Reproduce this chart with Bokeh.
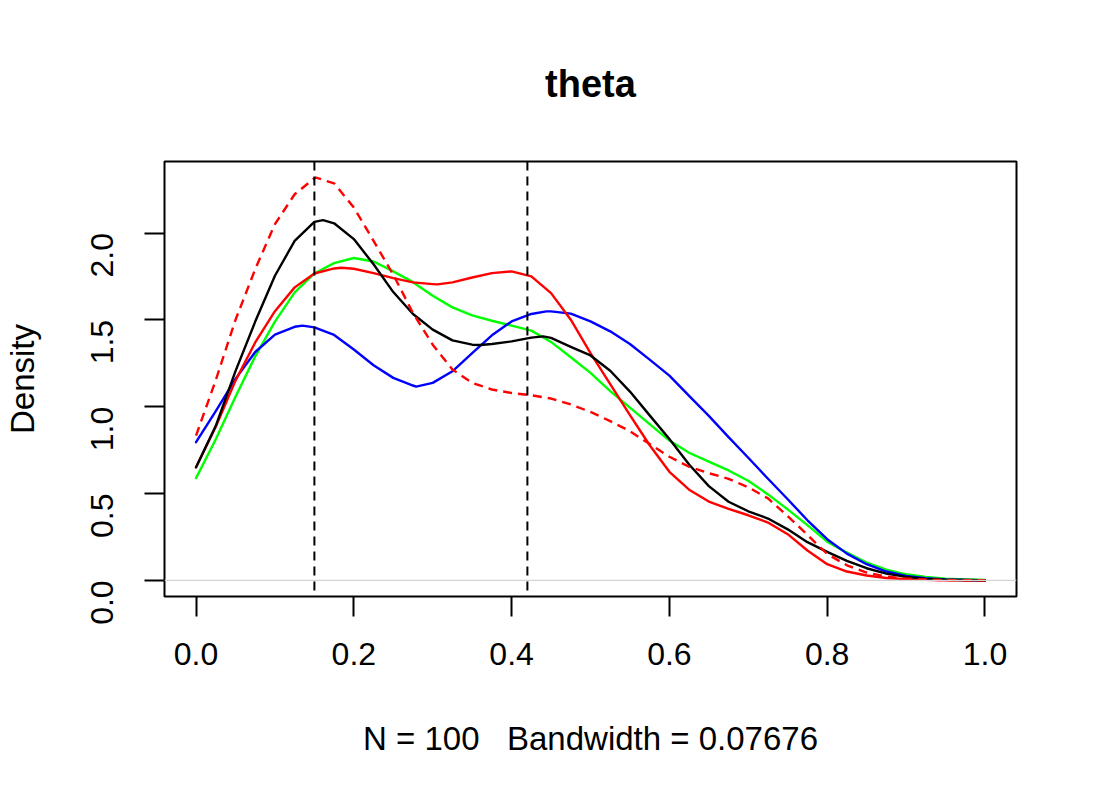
import math
from bokeh.plotting import figure
from bokeh.models import Range1d, Span, FixedTicker
from bokeh.embed import file_html
from bokeh.resources import INLINE

# Kernel density estimates of theta over [0, 1]; each curve has its own
# evaluation points (a common grid plus its turning points)
x_black = [0.000, 0.025, 0.050, 0.075, 0.100, 0.125, 0.150, 0.161, 0.175, 0.200,
           0.225, 0.250, 0.275, 0.300, 0.325, 0.350, 0.360, 0.375, 0.400, 0.425,
           0.440, 0.450, 0.475, 0.500, 0.525, 0.550, 0.575, 0.600, 0.625, 0.650,
           0.675, 0.700, 0.725, 0.750, 0.775, 0.800, 0.825, 0.850, 0.875, 0.900,
           0.925, 0.950, 0.975, 1.000]
dens_black = [0.651, 0.890, 1.205, 1.490, 1.754, 1.955, 2.064, 2.074, 2.056, 1.965,
              1.820, 1.660, 1.534, 1.444, 1.382, 1.357, 1.355, 1.361, 1.376, 1.398,
              1.405, 1.396, 1.345, 1.295, 1.207, 1.087, 0.950, 0.814, 0.667, 0.543,
              0.453, 0.398, 0.356, 0.294, 0.220, 0.164, 0.112, 0.070, 0.039, 0.020,
              0.009, 0.004, 0.002, 0.001]

x_red = [0.000, 0.025, 0.050, 0.075, 0.100, 0.125, 0.150, 0.175, 0.184, 0.200,
         0.225, 0.250, 0.275, 0.300, 0.306, 0.325, 0.350, 0.375, 0.400, 0.425,
         0.450, 0.475, 0.500, 0.525, 0.550, 0.575, 0.600, 0.625, 0.650, 0.675,
         0.700, 0.725, 0.750, 0.775, 0.800, 0.825, 0.850, 0.875, 0.900, 0.925,
         0.950, 0.975, 1.000]
dens_red = [0.651, 0.885, 1.150, 1.370, 1.550, 1.687, 1.767, 1.796, 1.800, 1.794,
            1.769, 1.740, 1.716, 1.706, 1.704, 1.716, 1.744, 1.769, 1.779, 1.750,
            1.654, 1.501, 1.309, 1.130, 0.951, 0.778, 0.625, 0.522, 0.454, 0.412,
            0.375, 0.333, 0.266, 0.172, 0.093, 0.051, 0.028, 0.014, 0.007, 0.003,
            0.001, 0.000, 0.000]

x_green = [0.000, 0.025, 0.050, 0.075, 0.100, 0.125, 0.150, 0.175, 0.200, 0.225,
           0.250, 0.275, 0.300, 0.325, 0.350, 0.375, 0.400, 0.425, 0.450, 0.475,
           0.500, 0.525, 0.550, 0.575, 0.600, 0.625, 0.650, 0.675, 0.700, 0.725,
           0.750, 0.775, 0.800, 0.825, 0.850, 0.875, 0.900, 0.925, 0.950, 0.975,
           1.000]
dens_green = [0.589, 0.813, 1.057, 1.290, 1.490, 1.658, 1.767, 1.827, 1.856, 1.836,
              1.779, 1.717, 1.639, 1.572, 1.526, 1.495, 1.467, 1.438, 1.373, 1.285,
              1.195, 1.090, 0.995, 0.900, 0.805, 0.735, 0.684, 0.633, 0.574, 0.495,
              0.409, 0.318, 0.223, 0.160, 0.102, 0.062, 0.035, 0.020, 0.010, 0.005,
              0.002]

x_blue = [0.000, 0.025, 0.050, 0.075, 0.100, 0.125, 0.135, 0.150, 0.175, 0.200,
          0.225, 0.250, 0.275, 0.279, 0.300, 0.325, 0.350, 0.375, 0.400, 0.425,
          0.444, 0.450, 0.475, 0.500, 0.525, 0.550, 0.575, 0.600, 0.625, 0.650,
          0.675, 0.700, 0.725, 0.750, 0.775, 0.800, 0.825, 0.850, 0.875, 0.900,
          0.925, 0.950, 0.975, 1.000]
dens_blue = [0.796, 0.975, 1.160, 1.315, 1.415, 1.460, 1.467, 1.457, 1.413, 1.329,
             1.239, 1.166, 1.122, 1.116, 1.137, 1.204, 1.309, 1.411, 1.491, 1.534,
             1.549, 1.549, 1.536, 1.491, 1.434, 1.361, 1.271, 1.179, 1.062, 0.947,
             0.825, 0.706, 0.585, 0.467, 0.346, 0.237, 0.154, 0.093, 0.051, 0.026,
             0.013, 0.005, 0.002, 0.000]

x_red_dashed = [0.000, 0.025, 0.050, 0.075, 0.100, 0.125, 0.150, 0.152, 0.175, 0.200,
                0.225, 0.250, 0.275, 0.300, 0.325, 0.350, 0.375, 0.400, 0.425, 0.450,
                0.475, 0.500, 0.525, 0.550, 0.575, 0.600, 0.625, 0.650, 0.675, 0.700,
                0.725, 0.750, 0.775, 0.800, 0.825, 0.850, 0.875, 0.900, 0.925, 0.950,
                0.975, 1.000]
dens_red_dashed = [0.834, 1.153, 1.500, 1.792, 2.051, 2.223, 2.315, 2.319, 2.286, 2.147,
                   1.955, 1.760, 1.539, 1.357, 1.214, 1.137, 1.099, 1.079, 1.066, 1.047,
                   1.013, 0.970, 0.917, 0.859, 0.785, 0.712, 0.654, 0.617, 0.585, 0.536,
                   0.472, 0.370, 0.262, 0.152, 0.087, 0.045, 0.022, 0.011, 0.005, 0.002,
                   0.001, 0.000]

# Reference values marked with vertical lines
ref_lines = [0.15, 0.42]

x_ticks = [0.0, 0.2, 0.4, 0.6, 0.8, 1.0]
x_tick_labels = ["0.0", "0.2", "0.4", "0.6", "0.8", "1.0"]
y_ticks = [0.0, 0.5, 1.0, 1.5, 2.0]
y_tick_labels = ["0.0", "0.5", "1.0", "1.5", "2.0"]

title_text = "theta"
# non-breaking spaces keep the wide gap from collapsing in SVG text
x_label = "N = 100\u00a0\u00a0 Bandwidth = 0.07676"
y_label = "Density"

FONT = "Liberation Sans"

all_x = x_black + x_red + x_green + x_blue + x_red_dashed
all_vals = dens_black + dens_red + dens_green + dens_blue + dens_red_dashed
ymax, ymin = max(all_vals), min(all_vals)
xmax, xmin = max(all_x), min(all_x)
yspan = ymax - ymin
xspan = xmax - xmin

p = figure(
    frame_width=852, frame_height=435,
    min_border_left=164, min_border_right=84,
    min_border_top=161, min_border_bottom=204,
    x_range=Range1d(xmin - 0.04 * xspan, xmax + 0.04 * xspan),
    y_range=Range1d(ymin - 0.04 * yspan, ymax + 0.04 * yspan),
    output_backend="svg", toolbar_location=None,
    title=title_text,
)

p.background_fill_color = "white"
p.border_fill_color = "white"
p.outline_line_color = "black"
p.outline_line_width = 2
p.xgrid.visible = False
p.ygrid.visible = False

p.title.align = "center"
p.title.text_font = FONT
p.title.text_font_size = "38px"
p.title.text_font_style = "bold"
p.title.text_color = "black"
p.title.standoff = 113

for ax in (p.xaxis[0], p.yaxis[0]):
    ax.axis_line_color = None
    ax.major_tick_line_color = "black"
    ax.major_tick_line_width = 2
    ax.major_tick_out = 20
    ax.major_tick_in = 0
    ax.minor_tick_line_color = None
    ax.major_label_text_font = FONT
    ax.major_label_text_font_size = "32px"
    ax.major_label_text_color = "black"
    ax.axis_label_text_font = FONT
    ax.axis_label_text_font_size = "33px"
    ax.axis_label_text_font_style = "normal"
    ax.axis_label_text_color = "black"

p.xaxis.ticker = FixedTicker(ticks=x_ticks)
p.xaxis.major_label_overrides = dict(zip(x_ticks, x_tick_labels))
p.xaxis.major_label_standoff = 26
p.xaxis.axis_label = x_label
p.xaxis.axis_label_standoff = 52

p.yaxis.ticker = FixedTicker(ticks=y_ticks)
p.yaxis.major_label_overrides = dict(zip(y_ticks, y_tick_labels))
p.yaxis.major_label_orientation = math.pi / 2
p.yaxis.major_label_standoff = 42
p.yaxis.axis_label = y_label
p.yaxis.axis_label_standoff = 37

# Zero line
p.add_layout(Span(location=0, dimension="width", line_color="#d4d4d4", line_width=1.2))

# Density curves
curve_kw = dict(line_width=2.4, line_join="round", line_cap="round")
p.line(x_green, dens_green, line_color="#00FF00", **curve_kw)
p.line(x_blue, dens_blue, line_color="#0000FF", **curve_kw)
p.line(x_red, dens_red, line_color="#FF0000", **curve_kw)
p.line(x_black, dens_black, line_color="black", **curve_kw)
p.line(x_red_dashed, dens_red_dashed, line_color="#FF0000", line_width=2.4,
       line_join="round", line_dash="9 6")

# Vertical reference lines
for v in ref_lines:
    p.add_layout(Span(location=v, dimension="height", line_color="black",
                      line_width=2, line_dash="9 6"))

open("out.html", "w").write(file_html(p, INLINE))
